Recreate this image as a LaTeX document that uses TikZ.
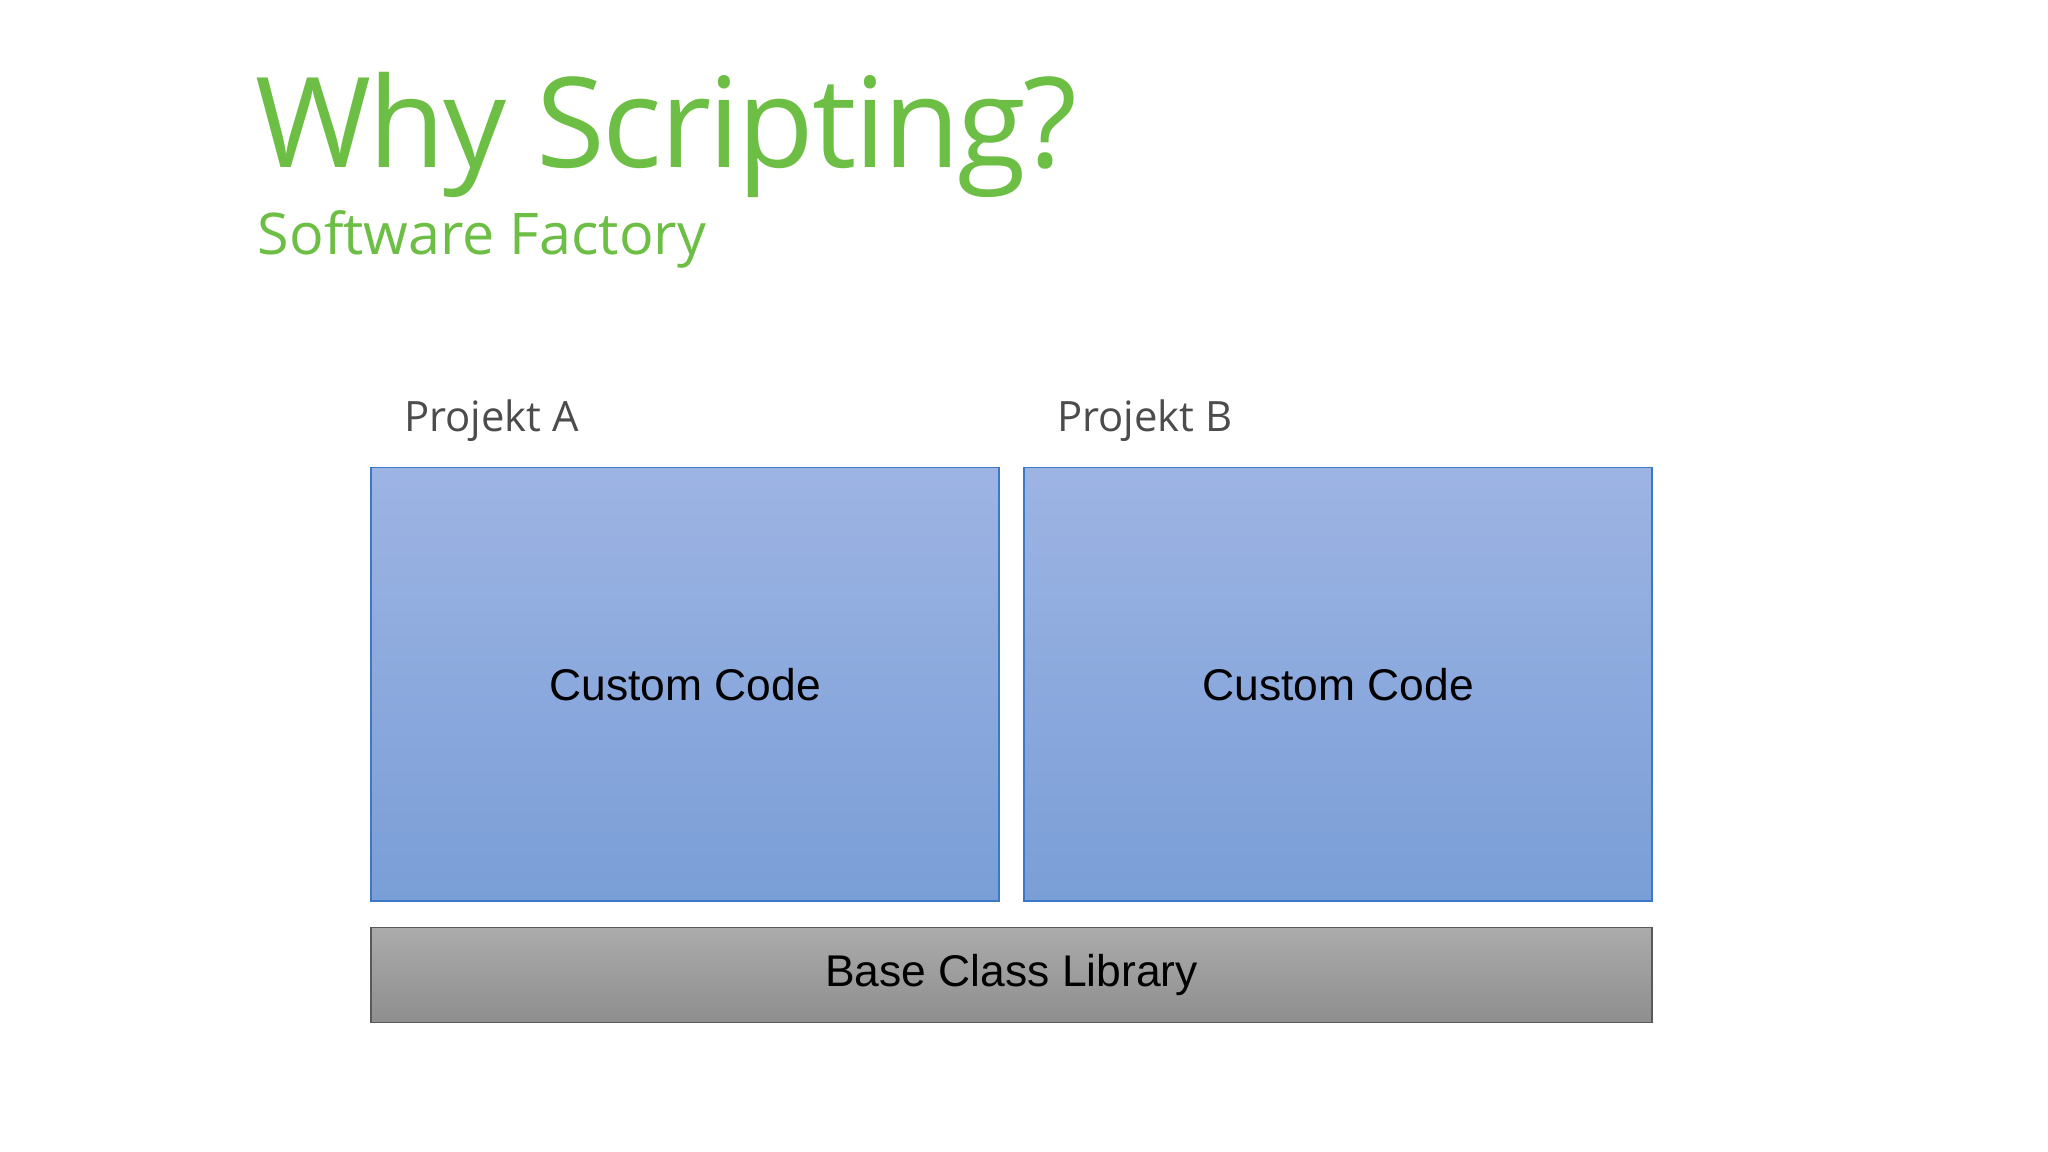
\documentclass[tikz,border=0pt]{standalone}
\usepackage{fontspec}
\setmainfont{Liberation Sans}
\newfontfamily\tfont{Open Sans}
\definecolor{grn}{HTML}{6DBE45}
\definecolor{btop}{HTML}{9DB4E3}
\definecolor{bbot}{HTML}{7A9ED7}
\definecolor{bdr}{HTML}{3B78C6}
\definecolor{gtop}{HTML}{ABABAB}
\definecolor{gbot}{HTML}{8E8E8E}
\begin{document}
\begin{tikzpicture}[x=0.5pt,y=-0.5pt,
  blk/.style={draw=bdr,line width=0.6pt,top color=btop,bottom color=bbot,inner sep=0pt,font=\fontsize{17}{20}\selectfont},
  base/.style={draw=black!65,line width=0.6pt,top color=gtop,bottom color=gbot,inner sep=0pt,font=\fontsize{17}{20}\selectfont},
  lbl/.style={anchor=base west,text=black!70,font=\tfont\fontsize{16}{19}\selectfont}]
\useasboundingbox (0,0) rectangle (1568,882);
\node[anchor=base west,text=grn,inner sep=0pt,font=\tfont\fontsize{48}{56}\selectfont\addfontfeature{LetterSpace=-2}] (title) at (195,128) {Why Scripting?};
\node[anchor=base west,text=grn,inner sep=0pt,font=\tfont\fontsize{22}{26}\selectfont] (sub) at (197,195) {Software Factory};
\node[lbl,inner sep=0pt] (pa) at (309,330) {Projekt A};
\node[lbl,inner sep=0pt] (pb) at (809,330) {Projekt B};
\node[blk,minimum width=240.5pt,minimum height=166pt] (a) at (524.5,524) {Custom Code};
\node[blk,minimum width=240.5pt,minimum height=166pt] (b) at (1024.5,524) {Custom Code};
\node[base,minimum width=490.5pt,minimum height=36.5pt] (bcl) at (774.5,746.5) {Base Class Library};
\end{tikzpicture}
\end{document}
